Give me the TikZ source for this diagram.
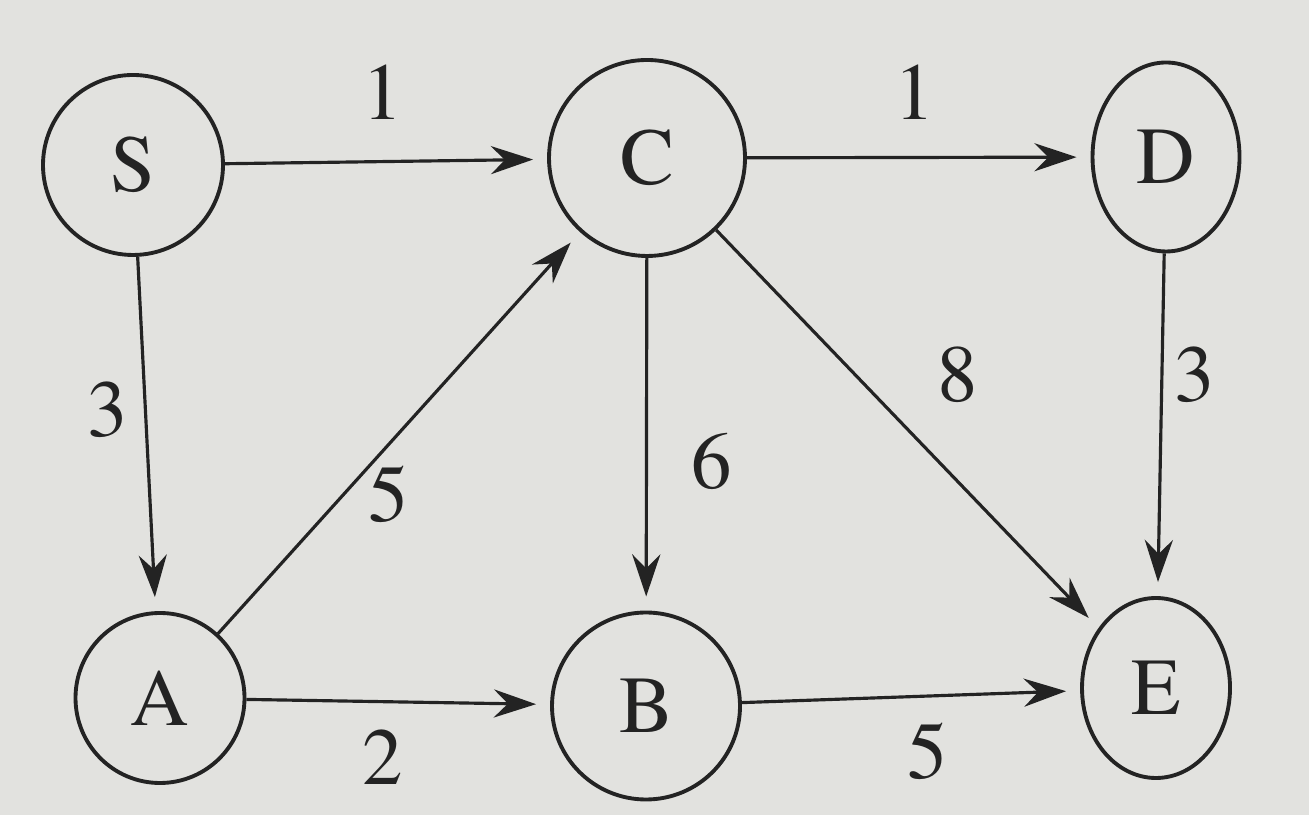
\documentclass[tikz,border=0pt]{standalone}
\usepackage[T1]{fontenc}
\usepackage{times}
\usetikzlibrary{arrows.meta, shapes.geometric, positioning}
\definecolor{paper}{RGB}{226,226,223}
\definecolor{ink}{RGB}{35,35,35}

\begin{document}
\begin{tikzpicture}[>={Stealth[length=12pt, width=8pt, inset=4pt]},
    vertex/.style={ellipse, draw=ink, line width=1.1pt, inner sep=0pt,
        font=\fontsize{23}{27}\selectfont, text=ink},
    weight/.style={font=\fontsize{23}{27}\selectfont, text=ink},
    arc/.style={->, draw=ink, line width=0.9pt, shorten >=4pt}]
    % Background
    \fill[paper] (0,0) rectangle (13.09,8.15);
    \useasboundingbox (0,0) rectangle (13.09,8.15);

    % Vertices
    \node[vertex, minimum width=1.80cm, minimum height=1.80cm] (S) at (1.33, 6.50) {S};
    \node[vertex, minimum width=1.96cm, minimum height=1.96cm] (C) at (6.47, 6.57) {C};
    \node[vertex, minimum width=1.47cm, minimum height=1.89cm] (D) at (11.66, 6.58) {D};
    \node[vertex, minimum width=1.69cm, minimum height=1.70cm] (A) at (1.60, 1.17) {A};
    \node[vertex, minimum width=1.88cm, minimum height=1.87cm] (B) at (6.46, 1.09) {B};
    \node[vertex, minimum width=1.48cm, minimum height=1.80cm] (E) at (11.56, 1.27) {E};

    % Arcs
    \draw[arc] (S) -- (C);
    \draw[arc] (C) -- (D);
    \draw[arc] (S) -- (A);
    \draw[arc] (A) -- (C);
    \draw[arc] (C) -- (B);
    \draw[arc] (C) -- (E);
    \draw[arc] (D) -- (E);
    \draw[arc] (A) -- (B);
    \draw[arc] (B) -- (E);

    % Weights
    \node[weight] (wSC) at (3.83, 7.23) {1};
    \node[weight] (wCD) at (9.15, 7.23) {1};
    \node[weight] (wSA) at (1.08, 4.05) {3};
    \node[weight] (wAC) at (3.89, 3.20) {5};
    \node[weight] (wCB) at (7.12, 3.53) {6};
    \node[weight] (wCE) at (9.58, 4.40) {8};
    \node[weight] (wDE) at (11.95, 4.40) {3};
    \node[weight] (wAB) at (3.83, 0.58) {2};
    \node[weight] (wBE) at (9.28, 0.63) {5};
\end{tikzpicture}
\end{document}
